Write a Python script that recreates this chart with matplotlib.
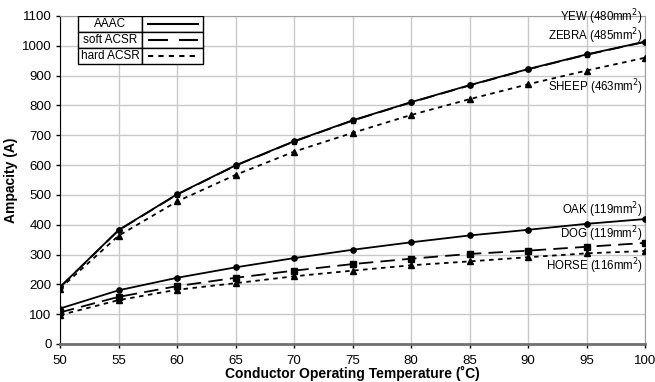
import matplotlib.pyplot as plt
import numpy as np

plt.rcParams["font.family"] = ["Liberation Sans", "DejaVu Sans"]
plt.rcParams["font.size"] = 9

temps = [50, 55, 60, 65, 70, 75, 80, 85, 90, 95, 100]

# large conductors
yew   = [191, 382, 502, 599, 680, 750, 811, 868, 922, 971, 1014]
zebra = [190, 381, 501, 598, 679, 749, 810, 867, 921, 970, 1013]
sheep = [186, 363, 478, 567, 645, 708, 768, 821, 871, 917, 960]
# small conductors
oak   = [119, 180, 222, 257, 288, 316, 341, 364, 383, 403, 419]
dog   = [106, 158, 194, 222, 246, 268, 286, 302, 313, 326, 339]
horse = [97, 147, 182, 204, 227, 246, 264, 277, 291, 304, 312]

labels = ["YEW (480mm$^2$)", "ZEBRA (485mm$^2$)", "SHEEP (463mm$^2$)",
          "OAK (119mm$^2$)", "DOG (119mm$^2$)", "HORSE (116mm$^2$)"]
label_y = [1096, 1032, 860, 449, 369, 262]

legend_names = ["AAAC", "soft ACSR", "hard ACSR"]

solid = dict(color='black', linestyle='-', linewidth=1.3, marker='o', markersize=3.8)
longd = dict(color='black', linestyle=(0, (8, 4)), linewidth=1.3, marker='s', markersize=4)
shortd = dict(color='black', linestyle=(0, (2.5, 2.5)), linewidth=1.3, marker='^', markersize=4)

fig = plt.figure(figsize=(6.55, 3.82), dpi=100)
ax = fig.add_axes([60/655, 1-344/382, 585/655, 328/382])

zeb = dict(longd)
zeb['markersize'] = 2.5
ax.plot(temps, zebra, **zeb, zorder=3)
ax.plot(temps, sheep, **shortd, zorder=3)
ax.plot(temps, yew, **solid, zorder=4)
ax.plot(temps, dog, **longd, zorder=3)
ax.plot(temps, horse, **shortd, zorder=3)
ax.plot(temps, oak, **solid, zorder=4)

for txt, yy in zip(labels, label_y):
    ax.text(99.8, yy, txt, ha='right', va='center', fontsize=8.3)

ax.set_xlim(50, 100)
ax.set_ylim(0, 1100)
ax.set_xticks(np.arange(50, 101, 5))
ax.set_yticks(np.arange(0, 1101, 100))
ax.grid(True, color='#c8c8c8', linewidth=1)
ax.set_axisbelow(True)
ax.tick_params(direction='out', length=3, width=1, colors='black', labelsize=9.5)
ax.tick_params(axis='x', pad=5)
ax.tick_params(axis='y', pad=3)
for s in ['top', 'right']:
    ax.spines[s].set_color('#a0a0a0')
ax.spines['left'].set_color('black')
ax.spines['bottom'].set_color('#707070')
ax.spines['bottom'].set_linewidth(2)
ax.set_xlabel("Conductor Operating Temperature (˚C)", fontweight='bold', fontsize=10, labelpad=-1)
ax.set_ylabel("Ampacity (A)", fontweight='bold', fontsize=10, labelpad=3)

# table-like legend
x0, x1, x2 = (78-60)/585, (142-60)/585, (203-60)/585
row_h = 16/328
styles = [dict(linestyle='-'), dict(linestyle=(0, (9.6, 5.3))), dict(linestyle=(0, (2.5, 2.5)))]
for i, name in enumerate(legend_names):
    top = 1 - i*row_h
    bot = top - row_h
    for xa, xb in [(x0, x1), (x1, x2)]:
        ax.add_patch(plt.Rectangle((xa, bot), xb-xa, row_h, transform=ax.transAxes,
                                   facecolor='white', edgecolor='black', linewidth=1, zorder=6))
    ax.text((x0+x1)/2, (top+bot)/2, name, transform=ax.transAxes, ha='center', va='center',
            fontsize=8.5, zorder=7)
    ax.plot([x1+0.01, x2-0.008], [(top+bot)/2]*2, transform=ax.transAxes, zorder=7,
            clip_on=False, color='black', linewidth=1.5, **styles[i])

plt.savefig("out.png", dpi=100)
